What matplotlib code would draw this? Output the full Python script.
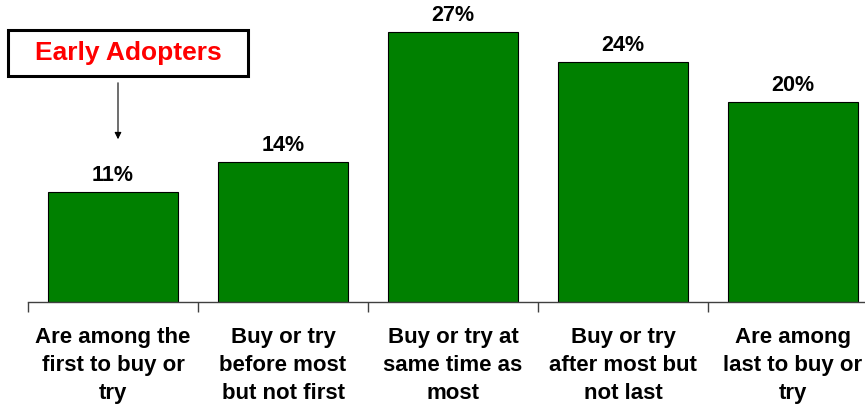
import matplotlib.pyplot as plt
from matplotlib.patches import Rectangle
import numpy as np

categories = [
    "Are among the\nfirst to buy or\ntry",
    "Buy or try\nbefore most\nbut not first",
    "Buy or try at\nsame time as\nmost",
    "Buy or try\nafter most but\nnot last",
    "Are among\nlast to buy or\ntry",
]
shares = [11, 14, 27, 24, 20]
callout_text = "Early Adopters"

plt.rcParams['font.family'] = ['Liberation Sans', 'DejaVu Sans']
plt.rcParams['font.weight'] = 'bold'

W, H = 865, 404
fig = plt.figure(figsize=(W / 100, H / 100), dpi=100)
ax = fig.add_axes([28 / W, 102 / H, 850 / W, 300 / H])

x = np.arange(len(categories))
bars = ax.bar(x, shares, width=0.765, color='#008000', edgecolor='black', linewidth=0.8)

for xi, v in zip(x, shares):
    ax.annotate(f"{v}%", (xi, v), xytext=(0, 4), textcoords='offset points',
                ha='center', va='bottom', fontsize=15.5, fontweight='bold')

ax.set_xlim(-0.5, len(categories) - 0.5)
ax.set_ylim(0, 30)

# boundary ticks below the axis, labels at the category centres
ax.set_xticks(np.arange(len(categories) + 1) - 0.5)
ax.set_xticklabels([])
ax.tick_params(axis='x', which='major', direction='out', length=7, width=1, color='#404040')
ax.set_xticks(x, categories, minor=True)
ax.tick_params(axis='x', which='minor', length=0, pad=18, labelsize=16)
for lbl in ax.get_xticklabels(minor=True):
    lbl.set_linespacing(1.45)
    lbl.set_fontweight('bold')

ax.set_yticks([])
for side in ['left', 'right', 'top']:
    ax.spines[side].set_visible(False)
ax.spines['bottom'].set_color('#404040')
ax.spines['bottom'].set_linewidth(1)

# callout box with arrow pointing at the first bar
fig.patches.append(Rectangle((8 / W, 1 - 76 / H), 240 / W, 46 / H, transform=fig.transFigure,
                             facecolor='white', edgecolor='black', linewidth=2.2))
fig.text(128 / W, 1 - 53 / H, callout_text, ha='center', va='center',
         fontsize=19, fontweight='bold', color='#ff0000')
ax.annotate('', xy=(118 / W, 1 - 142 / H), xytext=(118 / W, 1 - 80 / H),
            xycoords='figure fraction', textcoords='figure fraction',
            arrowprops=dict(arrowstyle='-|>', color='black', lw=0.8, mutation_scale=10))

fig.savefig('out.png', dpi=100)
